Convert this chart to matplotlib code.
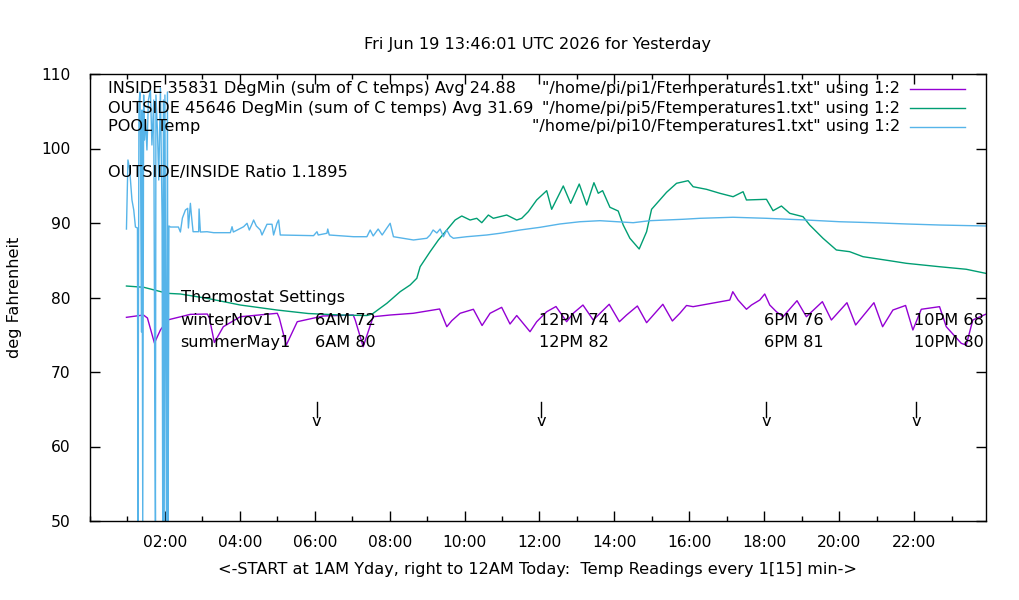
import matplotlib
matplotlib.use("Agg")
import matplotlib.pyplot as plt
from matplotlib.ticker import MultipleLocator, FixedLocator

# ---------------- data (hours since 00:00 of "yesterday", deg F) ----------------
inside_h = [0.973, 1.427, 1.533, 1.72, 1.88, 2.067, 2.68, 3.133, 3.187, 3.32, 3.56, 4.013,
            5.0, 5.053, 5.24, 5.533, 6.227, 7.027, 7.08, 7.293, 7.56, 8.013, 8.627, 9.333,
            9.525, 9.659, 9.88, 10.235, 10.467, 10.68, 10.99, 11.213, 11.392, 11.747, 11.925,
            12.192, 12.44, 12.725, 12.9, 13.16, 13.435, 13.659, 13.861, 14.133, 14.325, 14.613,
            14.859, 15.08, 15.293, 15.547, 15.747, 15.925, 16.101, 17.08, 17.16, 17.301, 17.525,
            17.659, 17.88, 18.013, 18.147, 18.325, 18.501, 18.875, 19.125, 19.552, 19.792,
            20.208, 20.44, 20.928, 21.16, 21.435, 21.773, 21.968, 22.192, 22.68, 22.859,
            23.259, 23.392, 23.568, 23.907]
inside_t = [77.34, 77.65, 77.25, 73.89, 75.64, 76.98, 77.74, 77.78, 77.25, 73.96, 76.08, 77.42,
            77.88, 77.25, 73.62, 76.75, 77.52, 77.65, 76.98, 73.40, 77.42, 77.65, 77.88, 78.46,
            76.08, 76.89, 77.88, 78.42, 76.24, 77.88, 78.68, 76.44, 77.58, 75.41, 76.75,
            78.09, 78.79, 76.75, 77.88, 78.99, 76.98, 78.09, 79.09, 76.75, 77.65, 78.86,
            76.62, 77.88, 79.09, 76.85, 77.88, 78.93, 78.77, 79.66, 80.78, 79.66, 78.42,
            78.99, 79.66, 80.47, 78.99, 78.09, 77.42, 79.57, 77.42, 79.44, 76.98,
            79.30, 76.31, 79.30, 76.08, 78.32, 78.93, 75.64, 78.42, 78.77, 76.08,
            73.85, 73.62, 76.98, 77.74]

outside_h = [0.973, 1.435, 1.792, 2.059, 2.413, 3.125, 4.013, 4.992, 5.827, 6.68, 7.392, 7.533,
             7.925, 8.28, 8.547, 8.725, 8.813, 9.08, 9.301, 9.525, 9.747, 9.925, 10.147, 10.325,
             10.459, 10.635, 10.768, 11.125, 11.392, 11.525, 11.701, 11.925, 12.192, 12.325,
             12.635, 12.832, 13.061, 13.259, 13.453, 13.568, 13.685, 13.88, 14.101, 14.235,
             14.413, 14.661, 14.859, 14.992, 15.392, 15.659, 15.968, 16.101, 16.459, 16.813,
             17.168, 17.435, 17.525, 18.059, 18.235, 18.459, 18.68, 19.035, 19.213, 19.568,
             19.925, 20.28, 20.635, 21.347, 21.792, 22.68, 23.392, 23.907]
outside_t = [81.54, 81.37, 80.91, 80.56, 80.47, 79.89, 78.99, 78.32, 77.85, 77.65, 77.58, 77.78,
             79.22, 80.78, 81.68, 82.58, 84.13, 86.15, 87.72, 89.06, 90.40, 90.94, 90.40, 90.63,
             90.04, 91.07, 90.63, 91.07, 90.40, 90.63, 91.52, 93.09, 94.34, 91.84,
             94.97, 92.64, 95.23, 92.42, 95.41, 93.99, 94.34, 92.11, 91.61, 89.73,
             87.95, 86.51, 88.83, 91.84, 94.12, 95.33, 95.68, 94.87, 94.52, 93.99,
             93.53, 94.20, 93.09, 93.18, 91.65, 92.28, 91.30, 90.85, 89.73, 87.95,
             86.38, 86.15, 85.48, 84.94, 84.59, 84.13, 83.79, 83.25]

pool_h = [0.973, 1.013, 1.053, 1.08, 1.12, 1.168, 1.213, 1.267, 1.28, 1.307, 1.333, 1.347,
          1.373, 1.387, 1.408, 1.432, 1.453, 1.48, 1.52, 1.56, 1.613, 1.653, 1.701, 1.728,
          1.747, 1.76, 1.8, 1.835, 1.88, 1.925, 1.941, 1.96, 1.981, 2.0, 2.04, 2.067, 2.085,
          2.107, 2.147, 2.36, 2.413, 2.467, 2.547, 2.608, 2.627, 2.68, 2.707, 2.752, 2.901,
          2.912, 2.947, 3.125, 3.301, 3.747, 3.792, 3.827, 4.101, 4.192, 4.253, 4.325, 4.368,
          4.44, 4.547, 4.592, 4.725, 4.859, 4.901, 4.992, 5.035, 5.08, 5.968, 6.059, 6.093,
          6.325, 6.347, 6.387, 7.035, 7.392, 7.48, 7.56, 7.693, 7.8, 7.907, 8.013, 8.101,
          8.635, 8.992, 9.08, 9.16, 9.259, 9.347, 9.435, 9.525, 9.613, 9.701, 10.059, 10.592,
          10.947, 11.48, 12.013, 12.547, 13.08, 13.613, 14.501, 14.947, 15.835, 16.28, 17.168,
          18.059, 19.125, 20.013, 20.901, 21.792, 22.68, 23.907]
pool_t = [89.19, 98.46, 97.38, 95.77, 93.09, 91.74, 89.46, 89.33, 50.0, 105.84, 107.58, 101.81,
          75.37, 105.17, 50.0, 107.18, 101.14, 103.83, 99.80, 106.51, 107.85, 100.47, 106.51, 69.46,
          50.0, 107.18, 102.48, 95.77, 108.12, 90.40, 50.0, 106.51, 50.0, 107.18, 50.0, 107.58, 50.0,
          89.60, 89.46, 89.46, 88.79, 90.67, 91.74, 91.97, 89.33, 92.64, 91.07, 88.83, 88.83,
          91.88, 88.79, 88.83, 88.70, 88.70, 89.50, 88.79, 89.50, 89.96, 89.06, 89.87, 90.40,
          89.60, 89.06, 88.39, 89.83, 89.83, 88.39, 89.96, 90.40, 88.39, 88.30, 88.83, 88.39,
          88.62, 89.19, 88.39, 88.16, 88.16, 89.06, 88.26, 89.19, 88.39, 89.19, 89.96, 88.16,
          87.72, 87.95, 88.39, 89.06, 88.66, 89.19, 88.16, 89.06, 88.26, 87.95, 88.16, 88.39,
          88.62, 89.06, 89.42, 89.87, 90.17, 90.31, 90.04, 90.31, 90.50, 90.63, 90.77,
          90.63, 90.40, 90.17, 90.04, 89.87, 89.73, 89.60]

xtick_hours = [2, 4, 6, 8, 10, 12, 14, 16, 18, 20, 22]
xtick_labels = ["02:00", "04:00", "06:00", "08:00", "10:00", "12:00", "14:00",
                "16:00", "18:00", "20:00", "22:00"]
yticks = [50, 60, 70, 80, 90, 100, 110]

legend_labels = ['"/home/pi/pi1/Ftemperatures1.txt" using 1:2',
                 '"/home/pi/pi5/Ftemperatures1.txt" using 1:2',
                 '"/home/pi/pi10/Ftemperatures1.txt" using 1:2']
info_lines = ["INSIDE 35831 DegMin (sum of C temps) Avg 24.88",
              "OUTSIDE 45646 DegMin (sum of C temps) Avg 31.69",
              "POOL Temp"]
ratio_text = "OUTSIDE/INSIDE Ratio 1.1895"
setting_hours = [6.0, 12.0, 18.0, 22.0]
winter_labels = ["6AM 72", "12PM 74", "6PM 76", "10PM 68"]
summer_labels = ["6AM 80", "12PM 82", "6PM 81", "10PM 80"]

# ---------------- figure ----------------
plt.rcParams['font.family'] = ['DejaVu Sans']
FS = 11.6
TFS = 11.2
fig = plt.figure(figsize=(10.2, 6.0), dpi=100)
ax = fig.add_axes([90/1020, 1 - 521/600, (986 - 90)/1020, (521 - 74)/600])

c_in, c_out, c_pool = "#9400d3", "#009e73", "#56b4e9"
ax.plot(inside_h, inside_t, color=c_in, lw=1.0)
ax.plot(outside_h, outside_t, color=c_out, lw=1.0)
ax.plot(pool_h, pool_t, color=c_pool, lw=1.0)

ax.set_xlim(0, 23.92)
ax.set_ylim(50, 110)
ax.xaxis.set_major_locator(FixedLocator(xtick_hours))
ax.set_xticklabels(xtick_labels, fontsize=TFS)
ax.xaxis.set_minor_locator(MultipleLocator(1))
ax.yaxis.set_major_locator(FixedLocator(yticks))
ax.set_yticklabels([str(v) for v in yticks], fontsize=TFS)
ax.tick_params(which='major', direction='in', length=7, width=1, top=True, right=True,
               colors='black')
ax.tick_params(axis='x', which='major', pad=10)
ax.tick_params(axis='y', which='major', pad=14)
ax.tick_params(which='minor', direction='in', length=3.5, width=1, top=True, right=False)
ax.tick_params(axis='y', which='minor', left=False, right=False)
for s in ax.spines.values():
    s.set_linewidth(1.0)
    s.set_color('black')

ax.set_ylabel("deg Fahrenheit", fontsize=FS, labelpad=14)
ax.set_xlabel("<-START at 1AM Yday, right to 12AM Today:  Temp Readings every 1[15] min->",
              fontsize=FS, labelpad=9)
fig.text(537/1020, 1 - 44/600, "Fri Jun 19 13:46:01 UTC 2026 for Yesterday",
         ha='center', va='center', fontsize=FS)

# legend (gnuplot style: right-aligned text, sample at right)
trans = ax.transAxes
def px2ax(x, y):
    return ((x - 90) / 896.0, (521 - y) / 447.0)
leg_y = [89, 108, 127]
for lab, col, yy in zip(legend_labels, [c_in, c_out, c_pool], leg_y):
    xa, ya = px2ax(900, yy)
    ax.text(xa, ya, lab, transform=trans, ha='right', va='center', fontsize=FS)
    x0, _ = px2ax(910, yy)
    x1, _ = px2ax(965, yy)
    ax.plot([x0, x1], [ya, ya], transform=trans, color=col, lw=1.0)

for lab, yy in zip(info_lines, leg_y):
    xa, ya = px2ax(108, yy)
    ax.text(xa, ya, lab, transform=trans, ha='left', va='center', fontsize=FS)
xa, ya = px2ax(108, 172)
ax.text(xa, ya, ratio_text, transform=trans, ha='left', va='center', fontsize=FS)

ax.text(2.42, 80.0, "Thermostat Settings", ha='left', va='center', fontsize=FS)
ax.text(2.42, 76.95, "winterNov1", ha='left', va='center', fontsize=FS)
ax.text(2.42, 74.0, "summerMay1", ha='left', va='center', fontsize=FS)
for h, w, s in zip(setting_hours, winter_labels, summer_labels):
    ax.text(h, 76.95, w, ha='left', va='center', fontsize=FS)
    ax.text(h, 74.0, s, ha='left', va='center', fontsize=FS)
    ax.plot([h + 0.05, h + 0.05], [66.0, 63.9], color='black', lw=1.0)
    ax.text(h + 0.05, 63.3, "v", ha='center', va='center', fontsize=FS)

fig.savefig("out.png", dpi=100)
